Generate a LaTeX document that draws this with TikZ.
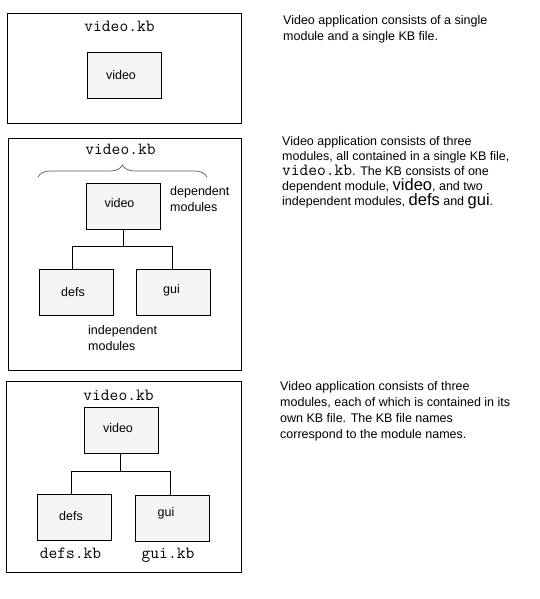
\documentclass[tikz,border=0pt]{standalone}
\usepackage{fontspec}
\setmainfont{Liberation Sans}
\usetikzlibrary{decorations.pathreplacing}
\newcommand\bigsans[1]{{\fontsize{16.5}{15}\selectfont #1}}
\newcommand\monokb[1]{{\fontsize{17}{15}\ttfamily #1}}
\begin{document}
\begin{tikzpicture}[x=1pt,y=-1pt,
  frame/.style={draw=black,line width=0.8pt},
  modbox/.style={draw=black,fill=black!4,line width=0.8pt,minimum width=74pt,minimum height=46pt,inner sep=0pt},
  boxtext/.style={font=\fontsize{12.5}{15}\selectfont,inner sep=0pt},
  kbname/.style={font=\fontsize{17}{18}\ttfamily,anchor=base,inner sep=0pt},
  desc/.style={anchor=north west,inner sep=0pt,align=left},
  conn/.style={draw=black,line width=0.8pt}]
\useasboundingbox[fill=white] (0,0) rectangle (539,599);

% ---------- panel 1
\draw[frame] (7,13) rectangle (241,123);
\node[kbname] (k1) at (119.5,32) {video.kb};
\node[modbox] (v1) at (124,75) {};
\node[boxtext] (v1t) at ([xshift=-3pt]v1.center) {video};
\node[desc,font=\fontsize{12.5}{16}\selectfont] (t1) at (283,15)
  {Video application consists of a single\\module and a single KB file.};

% ---------- panel 2
\draw[frame] (8,138) rectangle (241,370);
\node[kbname] (k2) at (120.5,154) {video.kb};
\coordinate (bl) at (38,177);
\coordinate (br) at (207,177);
\draw[black!65,line width=0.7pt,decorate,decoration={brace,amplitude=12pt}] (bl) -- (br);
\node[modbox] (v2) at (123.5,206) {};
\node[boxtext] (v2t) at ([xshift=-4pt,yshift=3pt]v2.center) {video};
\node[modbox] (d2) at (76,292.5) {};
\node[boxtext] (d2t) at ([xshift=-3pt]d2.center) {defs};
\node[modbox] (g2) at (173.5,292.5) {};
\node[boxtext] (g2t) at ([xshift=-2pt,yshift=2pt]g2.center) {gui};
\draw[conn] ([xshift=-0.5pt]v2.south) -- ++(0,18);
\draw[conn] ([xshift=-4pt]d2.north) -- ++(0,-23) -| ([xshift=-1.5pt]g2.north);
\node[desc,font=\fontsize{12.5}{16}\selectfont] (dep) at (170,186) {dependent\\modules};
\node[desc,font=\fontsize{12.5}{16}\selectfont] (indep) at (88,325) {independent\\modules};
\node[desc,font=\fontsize{12.5}{15}\selectfont] (t2) at (282,136.5)
  {Video application consists of three\\
   modules, all contained in a single KB file,\\
   \monokb{video.kb}. The KB consists of one\\
   dependent module, \bigsans{video}, and two\\
   independent modules, \bigsans{defs} and \bigsans{gui}.};

% ---------- panel 3
\draw[frame] (6,381) rectangle (241,572);
\node[kbname] (k3) at (118.5,400) {video.kb};
\node[modbox] (v3) at (121.5,430.5) {};
\node[boxtext] (v3t) at ([xshift=-3.5pt,yshift=2.5pt]v3.center) {video};
\node[modbox] (d3) at (74,517.5) {};
\node[boxtext] (d3t) at ([xshift=-3pt,yshift=1.5pt]d3.center) {defs};
\node[modbox] (g3) at (172,518.5) {};
\node[boxtext] (g3t) at ([xshift=-6pt,yshift=5pt]g3.center) {gui};
\draw[conn] ([xshift=-1.5pt]v3.south) -- ++(0,18.5);
\draw[conn] ([xshift=-3pt]d3.north) -- ++(0,-22.5) -| ([xshift=-2pt]g3.north);
\node[kbname] (dk) at (70.5,558) {defs.kb};
\node[kbname] (gk) at (168,558) {gui.kb};
\node[desc,font=\fontsize{12.5}{16}\selectfont] (t3) at (280,381)
  {Video application consists of three\\
   modules, each of which is contained in its\\
   own KB file. The KB file names\\
   correspond to the module names.};
\end{tikzpicture}
\end{document}
